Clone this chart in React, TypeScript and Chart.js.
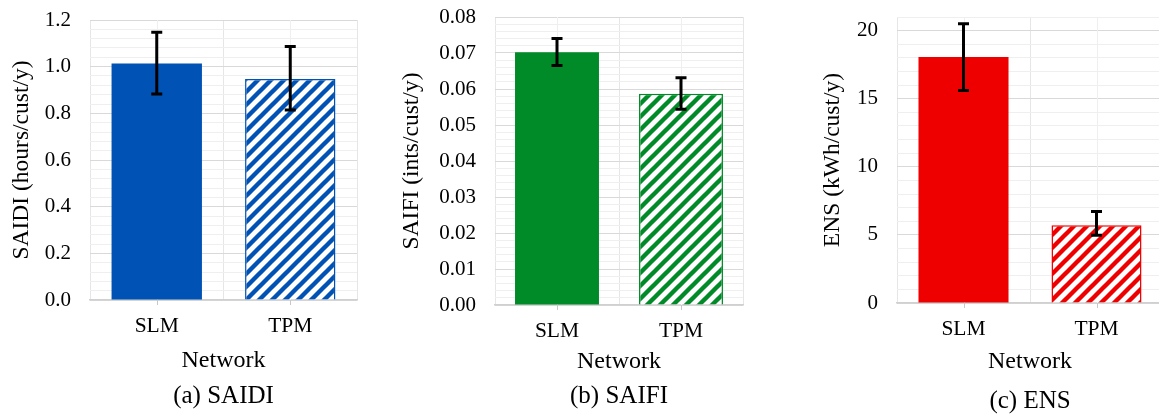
import React, { useEffect, useRef } from 'react';
import { Chart, registerables } from 'chart.js';

Chart.register(...registerables);

// ---------- data ----------
const categories = ['SLM', 'TPM'];

const saidiValues = [1.014, 0.947];
const saidiErrHigh = [1.147, 1.086];
const saidiErrLow = [0.883, 0.814];

const saifiValues = [0.0702, 0.0587];
const saifiErrHigh = [0.074, 0.0631];
const saifiErrLow = [0.0665, 0.0544];

const ensValues = [18.07, 5.71];
const ensErrHigh = [20.5, 6.71];
const ensErrLow = [15.6, 4.98];

const FONT = "'Liberation Serif', 'Times New Roman', serif";
const MAJOR_GRID = '#d9d9d9';
const MINOR_GRID = '#efefef';

type PanelCfg = {
  left: number;
  width: number;
  values: number[];
  high: number[];
  low: number[];
  color: string;
  yTitle: string;
  caption: string;
  yMax: number;
  minorStep: number;
  majorStep: number;
  decimals: number;
  yWidth: number;
  padTop: number;
  padRight: number;
  yTitlePad: number;
  xHeight: number;
  xTickPad: number;
  xTitlePad: number;
  captionPad: number;
};

function makeHatch(color: string) {
  const s = 13;
  const c = document.createElement('canvas');
  c.width = s;
  c.height = s;
  const g = c.getContext('2d')!;
  g.fillStyle = '#ffffff';
  g.fillRect(0, 0, s, s);
  g.strokeStyle = color;
  g.lineWidth = 4.4;
  g.beginPath();
  for (const off of [-s, 0, s]) {
    g.moveTo(off - 3, s + 3);
    g.lineTo(off + s + 3, -3);
  }
  g.stroke();
  return g.createPattern(c, 'repeat')!;
}

function Panel({ cfg }: { cfg: PanelCfg }) {
  const ref = useRef<HTMLCanvasElement | null>(null);
  useEffect(() => {
    const canvas = ref.current!;
    const isMajor = (v: number) => Math.abs(v / cfg.majorStep - Math.round(v / cfg.majorStep)) < 1e-6;

    const centerGrid = {
      id: 'centerGrid',
      beforeDatasetsDraw(chart: any) {
        const { ctx, chartArea } = chart;
        const xs = chart.scales.x;
        ctx.save();
        ctx.lineWidth = 1;
        categories.forEach((_, i) => {
          const x = Math.round(xs.getPixelForValue(i)) + 0.5;
          ctx.strokeStyle = MINOR_GRID;
          ctx.beginPath();
          ctx.moveTo(x, chartArea.top);
          ctx.lineTo(x, chartArea.bottom);
          ctx.stroke();
          ctx.strokeStyle = '#c8c8c8';
          ctx.beginPath();
          ctx.moveTo(x, chartArea.bottom);
          ctx.lineTo(x, chartArea.bottom + 5);
          ctx.stroke();
        });
        ctx.restore();
      },
    };

    const errorBars = {
      id: 'errorBars',
      afterDatasetsDraw(chart: any) {
        const { ctx } = chart;
        const ys = chart.scales.y;
        const meta = chart.getDatasetMeta(0);
        ctx.save();
        ctx.strokeStyle = '#000000';
        ctx.lineWidth = 3;
        meta.data.forEach((bar: any, i: number) => {
          const x = bar.x;
          const yt = ys.getPixelForValue(cfg.high[i]);
          const yb = ys.getPixelForValue(cfg.low[i]);
          ctx.beginPath();
          ctx.moveTo(x, yt);
          ctx.lineTo(x, yb);
          ctx.moveTo(x - 5.5, yt);
          ctx.lineTo(x + 5.5, yt);
          ctx.moveTo(x - 5.5, yb);
          ctx.lineTo(x + 5.5, yb);
          ctx.stroke();
        });
        ctx.restore();
      },
    };

    const chart = new Chart(canvas, {
      type: 'bar',
      data: {
        labels: categories,
        datasets: [
          {
            data: cfg.values,
            backgroundColor: [cfg.color, makeHatch(cfg.color)],
            borderColor: [cfg.color, cfg.color],
            borderWidth: [0, 1.5],
            categoryPercentage: 1,
            barPercentage: 0.677,
          } as any,
        ],
      },
      options: {
        responsive: false,
        animation: false,
        events: [],
        layout: { padding: { top: cfg.padTop, right: cfg.padRight, left: 0, bottom: 0 } },
        plugins: {
          legend: { display: false },
          tooltip: { enabled: false },
          title: {
            display: true,
            text: cfg.caption,
            position: 'bottom',
            fullSize: false,
            color: '#000',
            font: { family: FONT, size: 25, weight: 'normal' },
            padding: { top: 0, bottom: cfg.captionPad },
          },
        },
        scales: {
          x: {
            type: 'category',
            offset: true,
            grid: { offset: true, color: '#e6e6e6', drawTicks: false },
            border: { display: true, color: '#d0d0d0', width: 1.5 },
            ticks: {
              color: '#000',
              padding: cfg.xTickPad,
              font: { family: FONT, size: 21.5 },
            },
            title: {
              display: true,
              text: 'Network',
              color: '#000',
              font: { family: FONT, size: 24 },
              padding: { top: 0, bottom: cfg.xTitlePad },
            },
            afterFit: (s: any) => {
              s.height = cfg.xHeight;
            },
          },
          y: {
            min: 0,
            max: cfg.yMax,
            grid: {
              drawTicks: false,
              color: (ctx: any) => (ctx.tick && isMajor(ctx.tick.value) ? MAJOR_GRID : MINOR_GRID),
              lineWidth: 1,
            },
            border: { display: false },
            ticks: {
              stepSize: cfg.minorStep,
              maxTicksLimit: 200,
              autoSkip: false,
              padding: 19,
              color: '#000',
              font: { family: FONT, size: 21 },
              callback: (v: any) => (isMajor(Number(v)) ? Number(v).toFixed(cfg.decimals) : ''),
            },
            title: {
              display: true,
              text: cfg.yTitle,
              color: '#000',
              font: { family: FONT, size: 23.5 },
              padding: { top: cfg.yTitlePad, bottom: 0 },
            },
            afterFit: (s: any) => {
              s.width = cfg.yWidth;
              s.paddingTop = 0;
              s.paddingBottom = 0;
            },
          },
        },
      },
      plugins: [centerGrid, errorBars],
    });
    return () => chart.destroy();
  }, [cfg]);

  return (
    <canvas
      ref={ref}
      width={cfg.width}
      height={416}
      style={{ position: 'absolute', left: cfg.left, top: 0, width: cfg.width, height: 416 }}
    />
  );
}

const panels: PanelCfg[] = [
  {
    left: 0, width: 380, values: saidiValues, high: saidiErrHigh, low: saidiErrLow,
    color: '#0052B4', yTitle: 'SAIDI (hours/cust/y)', caption: '(a) SAIDI',
    yMax: 1.2, minorStep: 0.04, majorStep: 0.2, decimals: 1,
    yWidth: 90, padTop: 20, padRight: 23, yTitlePad: 7.7,
    xHeight: 81.5, xTickPad: 13, xTitlePad: 6, captionPad: 4.5,
  },
  {
    left: 380, width: 400, values: saifiValues, high: saifiErrHigh, low: saifiErrLow,
    color: '#008A28', yTitle: 'SAIFI (ints/cust/y)', caption: '(b) SAIFI',
    yMax: 0.08, minorStep: 0.002, majorStep: 0.01, decimals: 2,
    yWidth: 115, padTop: 17, padRight: 37, yTitlePad: 17.6,
    xHeight: 76, xTickPad: 13.6, xTitlePad: 5, captionPad: 5,
  },
  {
    left: 780, width: 400, values: ensValues, high: ensErrHigh, low: ensErrLow,
    color: '#EE0000', yTitle: 'ENS (kWh/cust/y)', caption: '(c) ENS',
    yMax: 21, minorStep: 1, majorStep: 5, decimals: 0,
    yWidth: 117, padTop: 17, padRight: 17, yTitlePad: 38.4,
    xHeight: 83, xTickPad: 13.6, xTitlePad: 10, captionPad: 0,
  },
];

export default function App() {
  return (
    <div
      style={{
        position: 'absolute', left: 0, top: 0, width: 1159, height: 416,
        overflow: 'hidden', background: '#ffffff',
      }}
    >
      {panels.map((p, i) => (
        <Panel key={i} cfg={p} />
      ))}
    </div>
  );
}
